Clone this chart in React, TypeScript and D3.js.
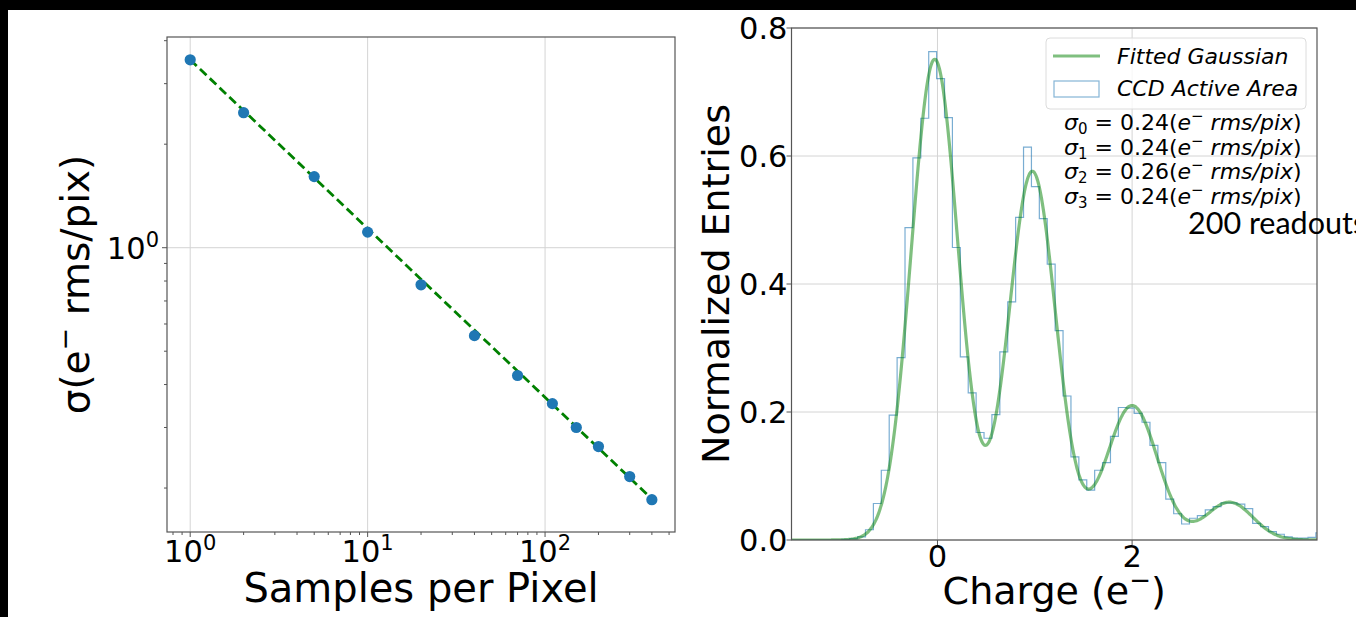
import React from 'react';
import * as d3 from 'd3';

const W = 1356;
const H = 617;
const FONT = 'DejaVu Sans';

// Left panel: read noise vs number of samples per pixel
const samples = [1, 2, 5, 10, 20, 40, 70, 110, 150, 200, 300, 400];
const sigmaNoise = [3.52, 2.47, 1.61, 1.11, 0.78, 0.555, 0.425, 0.352, 0.3, 0.264, 0.216, 0.185];
const fitLine: [number, number][] = [[1, 3.52], [400, 0.186]];
const sampleTicks = [1, 10, 100];

// Right panel: charge histogram (bin heights, normalized)
const histStart = -1.714;
const binWidth = 0.0812;
const histValues = [
  0, 0, 0, 0, 0, 0, 0, 0, 0, 0.001, 0.002, 0.005, 0.016, 0.057, 0.109, 0.195, 0.285,
  0.488, 0.597, 0.659, 0.763, 0.721, 0.66, 0.457, 0.286, 0.23, 0.168, 0.159, 0.196,
  0.294, 0.372, 0.504, 0.614, 0.552, 0.502, 0.431, 0.327, 0.225, 0.13, 0.094, 0.078,
  0.109, 0.121, 0.162, 0.207, 0.206, 0.198, 0.184, 0.148, 0.121, 0.064, 0.041, 0.025,
  0.034, 0.038, 0.047, 0.052, 0.058, 0.058, 0.056, 0.049, 0.026, 0.021, 0.013, 0.009,
  0.005, 0.003, 0.003, 0.004, 0.011,
];
// fitted gaussian parameters (one per electron peak)
const peakMeans = [-0.028, 0.975, 2.0, 3.0];
const peakAmps = [0.751, 0.576, 0.21, 0.059];
const peakSigmas = [0.24, 0.24, 0.26, 0.24];
const sigmaLabels = ['0.24', '0.24', '0.26', '0.24'];
const chargeTicks = [0, 2];
const entryTicks = [0, 0.2, 0.4, 0.6, 0.8];

function LeftPanel() {
  const L = 167, R = 675, T = 37, B = 532;
  const x = d3.scaleLog().domain([0.74, 540]).range([L, R]);
  const y = d3.scaleLog().domain([4.1, 0.149]).range([T, B]);

  const minorX: number[] = [];
  [0.1, 1, 10, 100].forEach(d => {
    for (let m = 2; m <= 9; m++) {
      const v = d * m;
      if (v > 0.74 && v < 540) minorX.push(v);
    }
  });
  const minorY = [0.2, 0.3, 0.4, 0.5, 0.6, 0.7, 0.8, 0.9, 2, 3, 4];

  const fit = d3.line<[number, number]>().x(d => x(d[0])).y(d => y(d[1]));

  return (
    <g>
      {sampleTicks.map(t => (
        <line key={'gx' + t} x1={x(t)} x2={x(t)} y1={T} y2={B} stroke="#d4d4d4" strokeWidth={1} />
      ))}
      <line x1={L} x2={R} y1={y(1)} y2={y(1)} stroke="#d4d4d4" strokeWidth={1} />

      <path d={fit(fitLine) || ''} fill="none" stroke="green" strokeWidth={2.8} strokeDasharray="9,4.5" />
      {samples.map((s, i) => (
        <circle key={s} cx={x(s)} cy={y(sigmaNoise[i])} r={5.6} fill="#1f77b4" />
      ))}

      <rect x={L} y={T} width={R - L} height={B - T} fill="none" stroke="#555" strokeWidth={1.2} />

      {sampleTicks.map(t => (
        <line key={'tx' + t} x1={x(t)} x2={x(t)} y1={B} y2={B + 5} stroke="#555" />
      ))}
      {minorX.map(t => (
        <line key={'mx' + t} x1={x(t)} x2={x(t)} y1={B} y2={B + 3} stroke="#555" />
      ))}
      <line x1={L - 5} x2={L} y1={y(1)} y2={y(1)} stroke="#555" />
      {minorY.map(t => (
        <line key={'my' + t} x1={L - 3} x2={L} y1={y(t)} y2={y(t)} stroke="#555" />
      ))}

      {sampleTicks.map((t, i) => (
        <text key={'lx' + t} x={x(t)} y={562} textAnchor="middle" fontSize={30.5} fontFamily={FONT} fill="#000">
          10<tspan dy={-12} fontSize={21}>{i}</tspan>
        </text>
      ))}
      <text x={159} y={259} textAnchor="end" fontSize={30.5} fontFamily={FONT}>
        10<tspan dy={-12} fontSize={21}>0</tspan>
      </text>

      <text x={(L + R) / 2} y={602} textAnchor="middle" fontSize={40} fontFamily={FONT}>
        Samples per Pixel
      </text>
      <text transform={`translate(89,${(T + B) / 2}) rotate(-90)`} textAnchor="middle" fontSize={39} fontFamily={FONT}>
        σ(e<tspan dy={-15} fontSize={27}>−</tspan><tspan dy={15}> rms/pix)</tspan>
      </text>
    </g>
  );
}

function RightPanel() {
  const L = 791.5, R = 1317, T = 28, B = 540;
  const x = d3.scaleLinear().domain([-1.5, 3.9]).range([L, R]);
  const y = d3.scaleLinear().domain([0, 0.8]).range([B, T]);

  const edges = histValues.map((_, i) => histStart + i * binWidth);
  const lastEdge = histStart + histValues.length * binWidth;
  const stepPts: [number, number][] = [[edges[0], 0]];
  histValues.forEach((v, i) => stepPts.push([edges[i], v]));
  stepPts.push([lastEdge, histValues[histValues.length - 1]]);
  stepPts.push([lastEdge, 0]);
  const step = d3.line<[number, number]>().x(d => x(d[0])).y(d => y(d[1])).curve(d3.curveStepAfter);

  const model = (c: number) =>
    peakMeans.reduce((s, m, i) => s + peakAmps[i] * Math.exp(-0.5 * ((c - m) / peakSigmas[i]) ** 2), 0);
  const grid = d3.range(-1.5, 3.9001, 0.01);
  const curve = d3.line<number>().x(d => x(d)).y(d => y(model(d))).curve(d3.curveMonotoneX);

  const mathY = [130, 154.5, 179, 203.5];

  return (
    <g>
      <defs>
        <clipPath id="rclip">
          <rect x={L} y={T} width={R - L} height={B - T} />
        </clipPath>
      </defs>
      {chargeTicks.map(t => (
        <line key={'gx' + t} x1={x(t)} x2={x(t)} y1={T} y2={B} stroke="#d4d4d4" />
      ))}
      {entryTicks.map(t => (
        <line key={'gy' + t} x1={L} x2={R} y1={y(t)} y2={y(t)} stroke="#d4d4d4" />
      ))}
      <g clipPath="url(#rclip)">
        <path d={step(stepPts) || ''} fill="none" stroke="#1f77b4" strokeOpacity={0.6} strokeWidth={1.2} />
        <path d={curve(grid) || ''} fill="none" stroke="green" strokeOpacity={0.5} strokeWidth={3.2} />
      </g>
      <rect x={L} y={T} width={R - L} height={B - T} fill="none" stroke="#555" strokeWidth={1.2} />

      {chargeTicks.map(t => (
        <g key={'tx' + t}>
          <line x1={x(t)} x2={x(t)} y1={B} y2={B + 5} stroke="#555" />
          <text x={x(t)} y={567} textAnchor="middle" fontSize={30.5} fontFamily={FONT}>{t}</text>
        </g>
      ))}
      {entryTicks.map(t => (
        <g key={'ty' + t}>
          <line x1={L - 5} x2={L} y1={y(t)} y2={y(t)} stroke="#555" />
          <text x={L - 4} y={y(t) + 11} textAnchor="end" fontSize={30.5} fontFamily={FONT}>{t.toFixed(1)}</text>
        </g>
      ))}

      <text x={(L + R) / 2} y={604} textAnchor="middle" fontSize={38} fontFamily={FONT}>
        Charge (e<tspan dy={-15} fontSize={26}>−</tspan><tspan dy={15}>)</tspan>
      </text>
      <text transform={`translate(729,${(T + B) / 2}) rotate(-90)`} textAnchor="middle" fontSize={38} fontFamily={FONT}>
        Normalized Entries
      </text>

      {/* legend */}
      <rect x={1046} y={38} width={260} height={71} rx={4} fill="#fff" fillOpacity={0.8} stroke="#dcdcdc" />
      <line x1={1053} x2={1100} y1={56} y2={56} stroke="green" strokeOpacity={0.5} strokeWidth={3.2} />
      <text x={1117} y={63.5} fontSize={22} fontStyle="italic" fontFamily={FONT}>Fitted Gaussian</text>
      <rect x={1054} y={81} width={45} height={16} fill="none" stroke="#1f77b4" strokeOpacity={0.55} strokeWidth={1.2} />
      <text x={1117} y={96} fontSize={22} fontStyle="italic" fontFamily={FONT}>CCD Active Area</text>

      {sigmaLabels.map((s, i) => (
        <text key={'s' + i} x={1064} y={mathY[i]} fontSize={22} fontFamily={FONT}>
          <tspan fontStyle="italic">σ</tspan>
          <tspan dy={4} fontSize={15}>{i}</tspan>
          <tspan dy={-4}> = {s}(</tspan>
          <tspan fontStyle="italic">e</tspan>
          <tspan dy={-9} fontSize={15}>−</tspan>
          <tspan dy={9} fontStyle="italic"> rms/pix</tspan>
          <tspan>)</tspan>
        </text>
      ))}
      <text x={1188} y={234} fontSize={30.5} fontFamily="Lato">200 readouts</text>
    </g>
  );
}

export default function App() {
  return (
    <div style={{ position: 'absolute', left: 0, top: 0 }}>
      <svg width={W} height={H} style={{ display: 'block', background: '#fff' }}>
        <rect x={0} y={0} width={W} height={H} fill="#fff" />
        <LeftPanel />
        <RightPanel />
        <rect x={0} y={0} width={W} height={10} fill="#000" />
        <rect x={0} y={0} width={8} height={H} fill="#000" />
      </svg>
    </div>
  );
}
